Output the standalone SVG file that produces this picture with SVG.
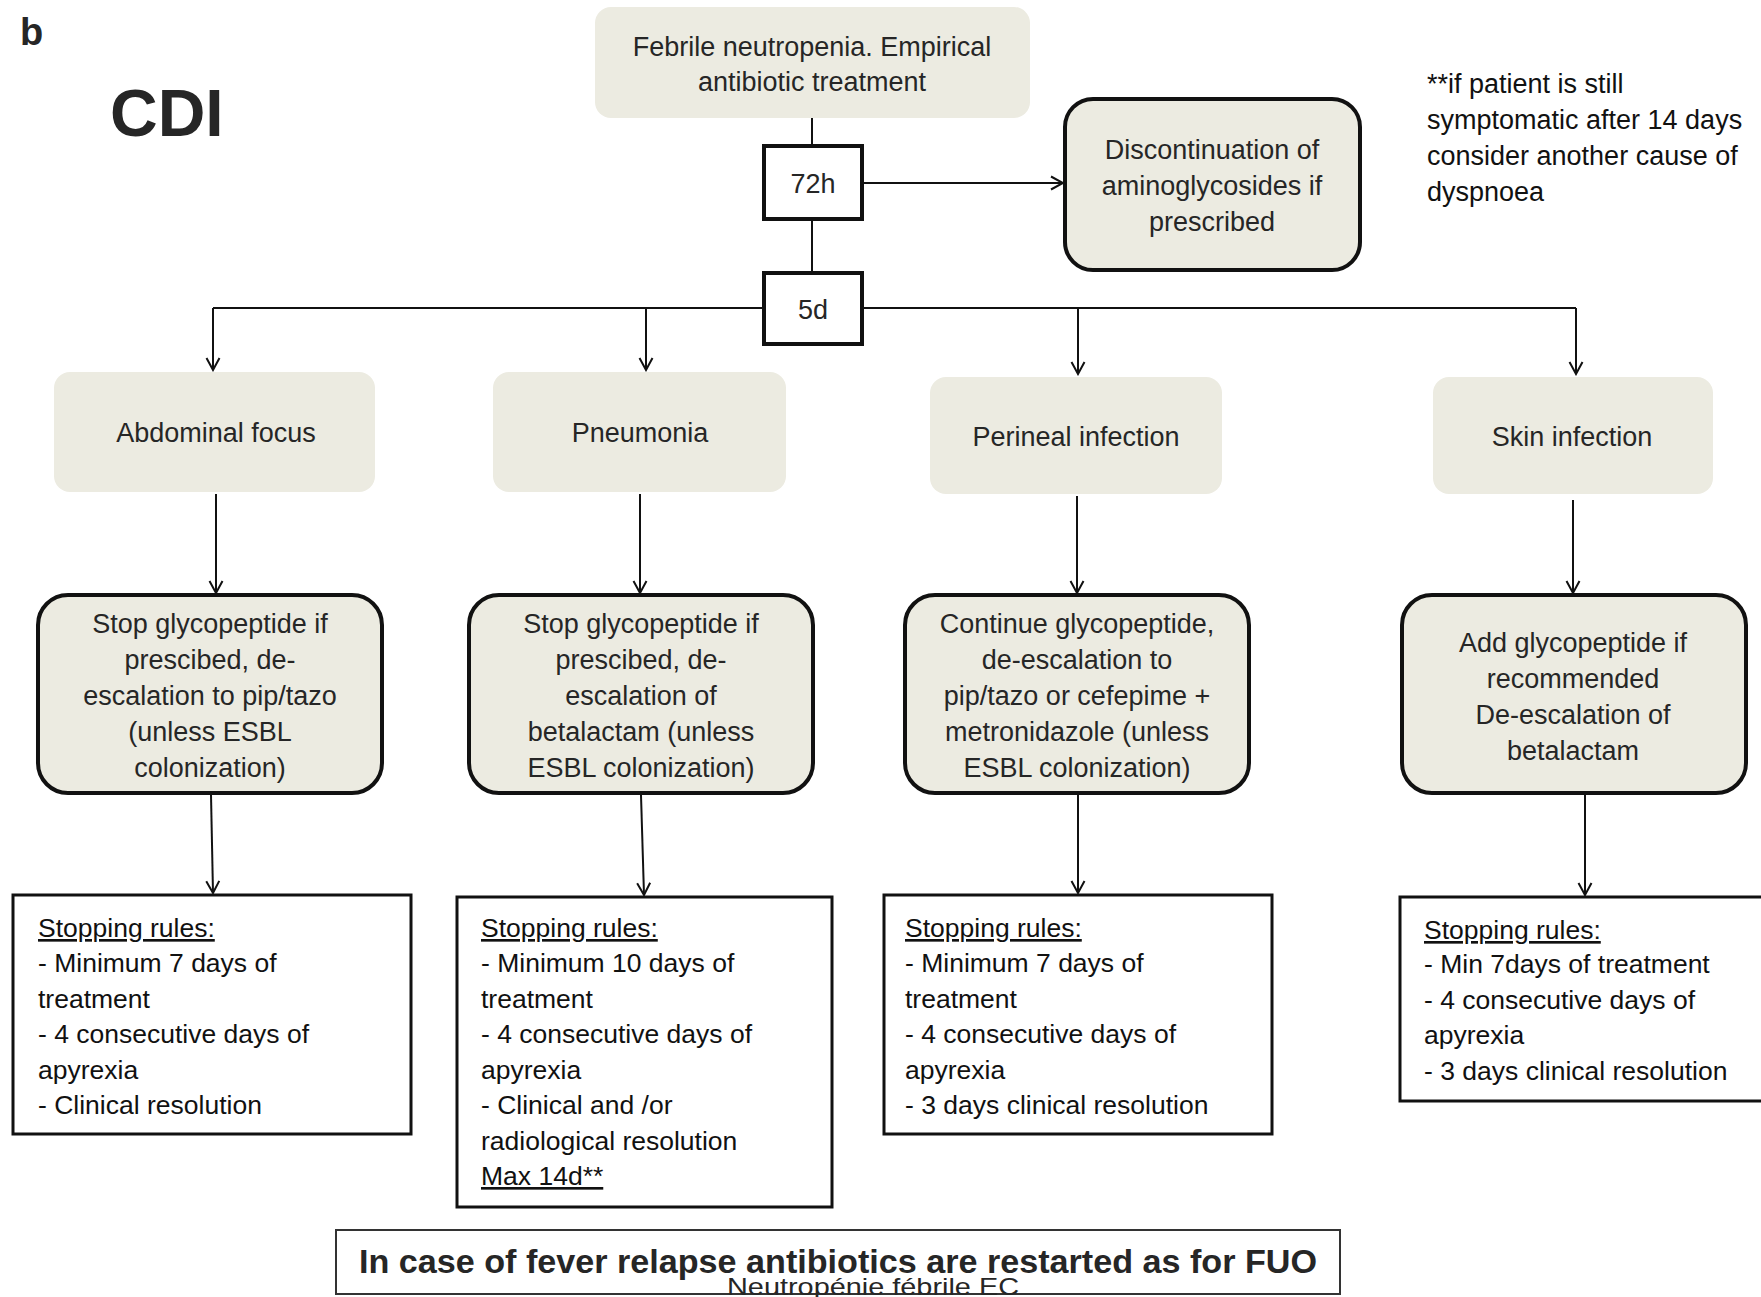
<svg xmlns="http://www.w3.org/2000/svg" width="1761" height="1297" viewBox="0 0 1761 1297">
  <defs>
    <marker id="arrow" viewBox="0 0 16 16" refX="14" refY="8" markerWidth="16" markerHeight="16" markerUnits="userSpaceOnUse" orient="auto">
      <path d="M2,1.5 L14,8 L2,14.5" fill="none" stroke="#111" stroke-width="2"/>
    </marker>
    <style>
      .soft { fill: #ecebe1; stroke: none; }
      .action { fill: #ecebe1; stroke: #111; stroke-width: 4; }
      .rule { fill: #fff; stroke: #111; stroke-width: 3; }
      .tick { fill: #fff; stroke: #111; stroke-width: 4; }
      .wire { fill: none; stroke: #111; stroke-width: 2; }
      .arr { fill: none; stroke: #111; stroke-width: 2; marker-end: url(#arrow); }
      text { font-family: "Liberation Sans", Arial, sans-serif; fill: #262626; }
      .c { text-anchor: middle; font-size: 27px; }
      .t { font-size: 26.5px; fill: #111; }
      .u { text-decoration: underline; }
      .note { font-size: 27px; fill: #111; }
    </style>
  </defs>

  <rect width="1761" height="1297" fill="#fff"/>

  <!-- panel labels -->
  <text x="20" y="45" font-size="38" font-weight="bold" fill="#111">b</text>
  <text x="110" y="136" font-size="66" font-weight="bold" fill="#111">CDI</text>

  <!-- footnote -->
  <g id="footnote">
    <text class="note" x="1427" y="93">**if patient is still</text>
    <text class="note" x="1427" y="129">symptomatic after 14 days</text>
    <text class="note" x="1427" y="165">consider another cause of</text>
    <text class="note" x="1427" y="201">dyspnoea</text>
  </g>

  <!-- connectors -->
  <g id="connectors">
    <line class="wire" x1="812" y1="118" x2="812" y2="146"/>
    <line class="wire" x1="812" y1="219" x2="812" y2="273"/>
    <line class="arr" x1="862" y1="183" x2="1063" y2="183"/>
    <line class="wire" x1="213" y1="308" x2="764" y2="308"/>
    <line class="wire" x1="862" y1="308" x2="1576" y2="308"/>
    <line class="arr" x1="213" y1="308" x2="213" y2="370"/>
    <line class="arr" x1="646" y1="308" x2="646" y2="370"/>
    <line class="arr" x1="1078" y1="308" x2="1078" y2="374"/>
    <line class="arr" x1="1576" y1="308" x2="1576" y2="374"/>
    <line class="arr" x1="216" y1="494" x2="216" y2="593"/>
    <line class="arr" x1="640" y1="494" x2="640" y2="593"/>
    <line class="arr" x1="1077" y1="496" x2="1077" y2="593"/>
    <line class="arr" x1="1573" y1="500" x2="1573" y2="593"/>
    <line class="arr" x1="211" y1="795" x2="213" y2="893"/>
    <line class="arr" x1="641" y1="795" x2="644" y2="895"/>
    <line class="arr" x1="1078" y1="795" x2="1078" y2="893"/>
    <line class="arr" x1="1585" y1="795" x2="1585" y2="895"/>
  </g>

  <g id="start">
    <rect class="soft" x="595" y="7" width="435" height="111" rx="16"/>
    <text class="c" x="812" y="56">Febrile neutropenia. Empirical</text>
    <text class="c" x="812" y="91">antibiotic treatment</text>
  </g>

  <g id="t72h">
    <rect class="tick" x="764" y="146" width="98" height="73"/>
    <text class="c" x="813" y="193" fill="#111">72h</text>
  </g>

  <g id="t5d">
    <rect class="tick" x="764" y="273" width="98" height="71"/>
    <text class="c" x="813" y="319" fill="#111">5d</text>
  </g>

  <g id="discontinuation">
    <rect class="action" x="1065" y="99" width="295" height="171" rx="28"/>
    <text class="c" x="1212" y="159">Discontinuation of</text>
    <text class="c" x="1212" y="195">aminoglycosides if</text>
    <text class="c" x="1212" y="231">prescribed</text>
  </g>

  <!-- infection sites -->
  <g id="abdominal">
    <rect class="soft" x="54" y="372" width="321" height="120" rx="16"/>
    <text class="c" x="216" y="442">Abdominal focus</text>
  </g>
  <g id="pneumonia">
    <rect class="soft" x="493" y="372" width="293" height="120" rx="16"/>
    <text class="c" x="640" y="442">Pneumonia</text>
  </g>
  <g id="perineal">
    <rect class="soft" x="930" y="377" width="292" height="117" rx="16"/>
    <text class="c" x="1076" y="446">Perineal infection</text>
  </g>
  <g id="skin">
    <rect class="soft" x="1433" y="377" width="280" height="117" rx="16"/>
    <text class="c" x="1572" y="446">Skin infection</text>
  </g>

  <!-- antibiotic adjustments -->
  <g id="abdominal-action">
    <rect class="action" x="38" y="595" width="344" height="198" rx="30"/>
    <text class="c" x="210" y="633">Stop glycopeptide if</text>
    <text class="c" x="210" y="669">prescibed, de-</text>
    <text class="c" x="210" y="705">escalation to pip/tazo</text>
    <text class="c" x="210" y="741">(unless ESBL</text>
    <text class="c" x="210" y="777">colonization)</text>
  </g>
  <g id="pneumonia-action">
    <rect class="action" x="469" y="595" width="344" height="198" rx="30"/>
    <text class="c" x="641" y="633">Stop glycopeptide if</text>
    <text class="c" x="641" y="669">prescibed, de-</text>
    <text class="c" x="641" y="705">escalation of</text>
    <text class="c" x="641" y="741">betalactam (unless</text>
    <text class="c" x="641" y="777">ESBL colonization)</text>
  </g>
  <g id="perineal-action">
    <rect class="action" x="905" y="595" width="344" height="198" rx="30"/>
    <text class="c" x="1077" y="633">Continue glycopeptide,</text>
    <text class="c" x="1077" y="669">de-escalation to</text>
    <text class="c" x="1077" y="705">pip/tazo or cefepime +</text>
    <text class="c" x="1077" y="741">metronidazole (unless</text>
    <text class="c" x="1077" y="777">ESBL colonization)</text>
  </g>
  <g id="skin-action">
    <rect class="action" x="1402" y="595" width="344" height="198" rx="30"/>
    <text class="c" x="1573" y="652">Add glycopeptide if</text>
    <text class="c" x="1573" y="688">recommended</text>
    <text class="c" x="1573" y="724">De-escalation of</text>
    <text class="c" x="1573" y="760">betalactam</text>
  </g>

  <!-- stopping rules -->
  <g id="abdominal-rules">
    <rect class="rule" x="13" y="895" width="398" height="239"/>
    <text class="t u" x="38" y="937">Stopping rules:</text>
    <text class="t" x="38" y="972">- Minimum 7 days of</text>
    <text class="t" x="38" y="1008">treatment</text>
    <text class="t" x="38" y="1043">- 4 consecutive days of</text>
    <text class="t" x="38" y="1079">apyrexia</text>
    <text class="t" x="38" y="1114">- Clinical resolution</text>
  </g>
  <g id="pneumonia-rules">
    <rect class="rule" x="457" y="897" width="375" height="310"/>
    <text class="t u" x="481" y="937">Stopping rules:</text>
    <text class="t" x="481" y="972">- Minimum 10 days of</text>
    <text class="t" x="481" y="1008">treatment</text>
    <text class="t" x="481" y="1043">- 4 consecutive days of</text>
    <text class="t" x="481" y="1079">apyrexia</text>
    <text class="t" x="481" y="1114">- Clinical and /or</text>
    <text class="t" x="481" y="1150">radiological resolution</text>
    <text class="t u" x="481" y="1185">Max 14d**</text>
  </g>
  <g id="perineal-rules">
    <rect class="rule" x="884" y="895" width="388" height="239"/>
    <text class="t u" x="905" y="937">Stopping rules:</text>
    <text class="t" x="905" y="972">- Minimum 7 days of</text>
    <text class="t" x="905" y="1008">treatment</text>
    <text class="t" x="905" y="1043">- 4 consecutive days of</text>
    <text class="t" x="905" y="1079">apyrexia</text>
    <text class="t" x="905" y="1114">- 3 days clinical resolution</text>
  </g>
  <g id="skin-rules">
    <rect class="rule" x="1400" y="897" width="370" height="204"/>
    <text class="t u" x="1424" y="939">Stopping rules:</text>
    <text class="t" x="1424" y="973">- Min 7days of treatment</text>
    <text class="t" x="1424" y="1009">- 4 consecutive days of</text>
    <text class="t" x="1424" y="1044">apyrexia</text>
    <text class="t" x="1424" y="1080">- 3 days clinical resolution</text>
  </g>

  <g id="relapse">
    <rect x="336" y="1230" width="1004" height="64" fill="#fff" stroke="#333" stroke-width="2"/>
    <text x="838" y="1273" text-anchor="middle" font-size="34" font-weight="bold" fill="#111" textLength="958" lengthAdjust="spacingAndGlyphs">In case of fever relapse antibiotics are restarted as for FUO</text>
  </g>

  <text x="873" y="1295" text-anchor="middle" font-size="24" fill="#8a8a8a" textLength="292" lengthAdjust="spacingAndGlyphs">Neutropénie fébrile EC</text>
</svg>
